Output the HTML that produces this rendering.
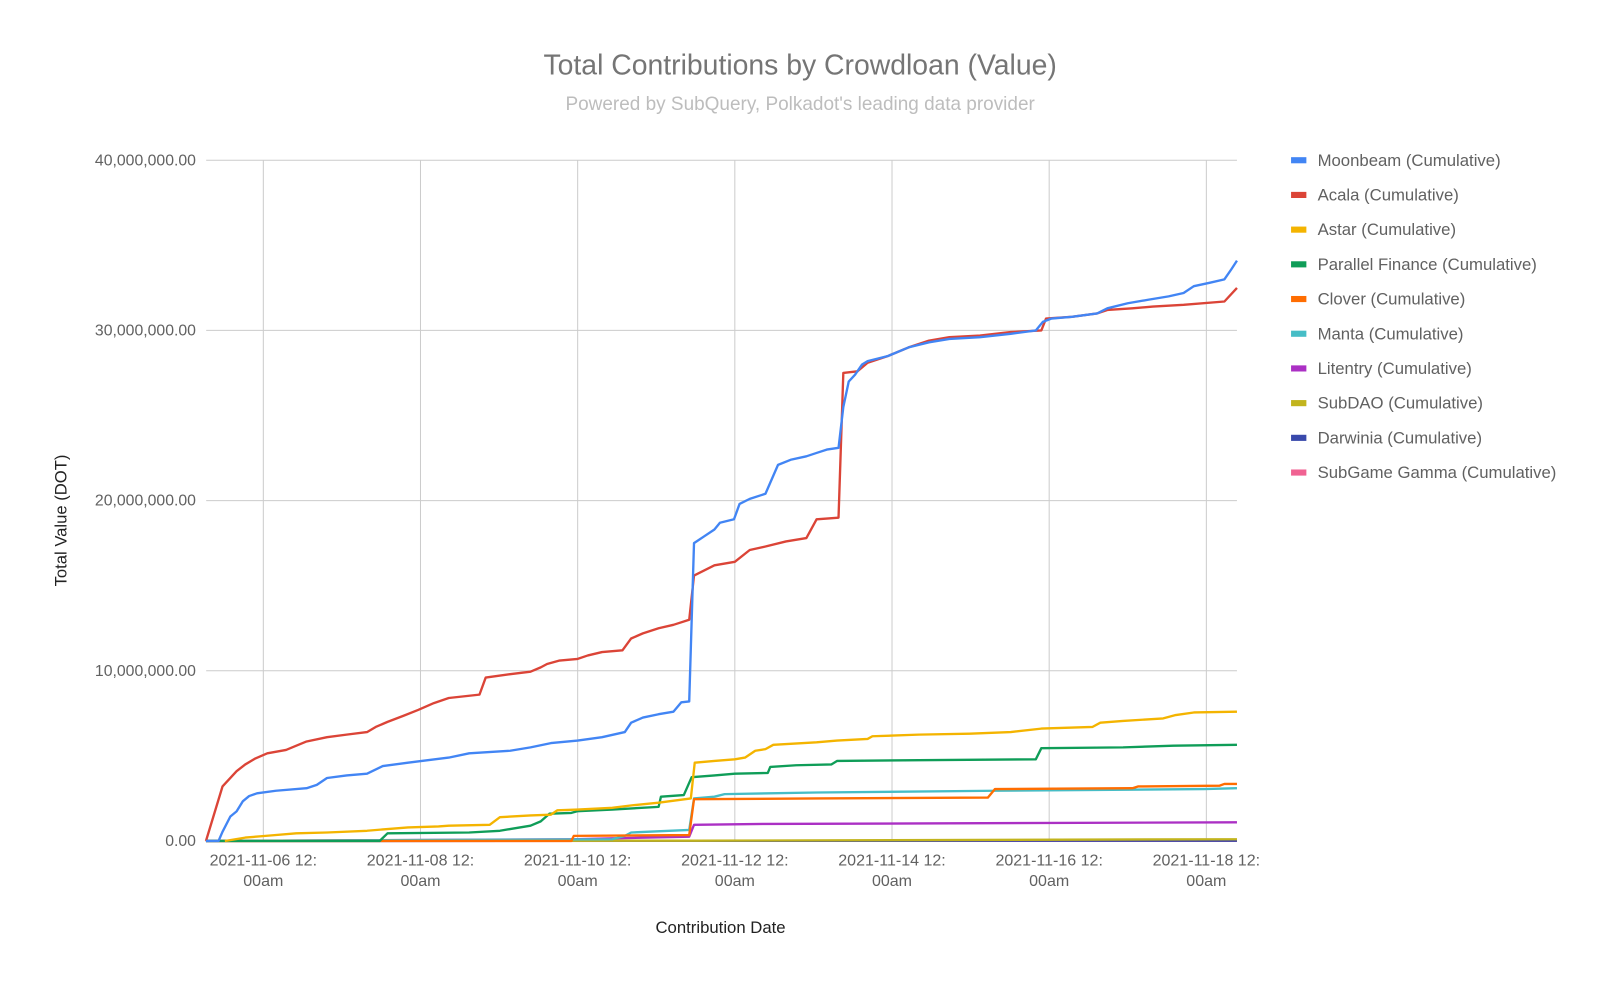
<!DOCTYPE html>
<html><head><meta charset="utf-8"><style>
body{margin:0;background:#fff;font-family:"Liberation Sans",Arial,sans-serif}
svg{display:block}
svg text{font-family:"Liberation Sans",Arial,sans-serif}
</style></head><body>
<svg id="chart" width="1600" height="986" viewBox="0 0 1567.7 966.1" xmlns="http://www.w3.org/2000/svg">
<rect width="1568" height="967" fill="#fff"/>
<text x="784" y="73" text-anchor="middle" font-size="27.8" fill="#757575">Total Contributions by Crowdloan (Value)</text>
<text x="784" y="108" text-anchor="middle" font-size="18.6" fill="#bdbdbd">Powered by SubQuery, Polkadot's leading data provider</text>
<g id="grid"></g><g id="series"></g><g id="axes"></g><g id="legend"></g>
<text x="706" y="914" text-anchor="middle" font-size="16.4" fill="#222">Contribution Date</text>
<text transform="translate(65,510) rotate(-90)" text-anchor="middle" font-size="16.3" fill="#222">Total Value (DOT)</text>
</svg>
<script>
// x in days offset from 2021-11-06 12:00, y in millions of DOT
const yTicks=[0,10,20,30,40];
const yTickLabels=["0.00","10,000,000.00","20,000,000.00","30,000,000.00","40,000,000.00"];
const xTicks=[0,2,4,6,8,10,12];
const xTickLabels=["2021-11-06 12:","2021-11-08 12:","2021-11-10 12:","2021-11-12 12:","2021-11-14 12:","2021-11-16 12:","2021-11-18 12:"];
const seriesNames=["Moonbeam (Cumulative)","Acala (Cumulative)","Astar (Cumulative)","Parallel Finance (Cumulative)","Clover (Cumulative)","Manta (Cumulative)","Litentry (Cumulative)","SubDAO (Cumulative)","Darwinia (Cumulative)","SubGame Gamma (Cumulative)"];
const seriesColors=["#4285f4","#db4437","#f4b400","#0f9d58","#ff6d01","#46bdc6","#ab30c4","#c2b41d","#3949ab","#f06292"];
const moonbeam=[[-0.73,0],[-0.57,0],[-0.52,0.54],[-0.42,1.44],[-0.34,1.74],[-0.26,2.34],[-0.18,2.64],[-0.08,2.8],[0.16,2.95],[0.55,3.1],[0.68,3.3],[0.81,3.7],[1.06,3.85],[1.32,3.95],[1.52,4.4],[1.84,4.6],[2.36,4.9],[2.62,5.15],[3.14,5.3],[3.4,5.5],[3.66,5.75],[4.0,5.9],[4.31,6.1],[4.6,6.4],[4.68,6.95],[4.83,7.25],[5.03,7.45],[5.22,7.6],[5.32,8.15],[5.42,8.2],[5.48,17.5],[5.61,17.9],[5.74,18.3],[5.81,18.7],[5.99,18.9],[6.06,19.8],[6.19,20.1],[6.39,20.4],[6.55,22.1],[6.71,22.4],[6.91,22.6],[7.04,22.8],[7.17,23.0],[7.32,23.1],[7.38,25.5],[7.45,27.0],[7.53,27.4],[7.62,28.0],[7.69,28.2],[7.95,28.5],[8.21,29.0],[8.47,29.3],[8.73,29.5],[9.12,29.6],[9.51,29.8],[9.83,30.0],[9.92,30.5],[10.03,30.7],[10.29,30.8],[10.61,31.0],[10.74,31.3],[11.0,31.6],[11.26,31.8],[11.52,32.0],[11.71,32.2],[11.84,32.6],[12.04,32.8],[12.23,33.0],[12.32,33.6],[12.39,34.1]];
const acala=[[-0.73,0],[-0.52,3.2],[-0.34,4.1],[-0.23,4.5],[-0.1,4.85],[0.05,5.15],[0.29,5.35],[0.42,5.6],[0.55,5.85],[0.81,6.1],[1.06,6.25],[1.32,6.4],[1.43,6.7],[1.58,7.0],[1.78,7.35],[1.97,7.7],[2.17,8.1],[2.36,8.4],[2.75,8.6],[2.83,9.6],[3.14,9.8],[3.4,9.95],[3.53,10.2],[3.61,10.4],[3.77,10.6],[4.0,10.7],[4.13,10.9],[4.31,11.1],[4.57,11.2],[4.68,11.9],[4.83,12.2],[5.03,12.5],[5.22,12.7],[5.42,13.0],[5.48,15.6],[5.61,15.9],[5.74,16.2],[6.0,16.4],[6.19,17.1],[6.39,17.3],[6.65,17.6],[6.91,17.8],[7.04,18.9],[7.32,19.0],[7.38,27.5],[7.56,27.6],[7.69,28.1],[7.95,28.5],[8.21,29.0],[8.47,29.4],[8.73,29.6],[9.12,29.7],[9.51,29.9],[9.9,30.0],[9.96,30.7],[10.29,30.8],[10.61,31.0],[10.74,31.2],[11.06,31.3],[11.32,31.4],[11.71,31.5],[12.23,31.7],[12.39,32.5]];
const astar=[[-0.49,0],[-0.23,0.2],[0.03,0.3],[0.42,0.45],[0.81,0.5],[1.32,0.6],[1.58,0.7],[1.84,0.8],[2.23,0.85],[2.36,0.9],[2.88,0.95],[3.01,1.4],[3.4,1.5],[3.66,1.55],[3.74,1.8],[4.0,1.85],[4.44,1.95],[4.7,2.1],[5.03,2.25],[5.44,2.5],[5.49,4.6],[5.74,4.7],[6.0,4.8],[6.13,4.9],[6.26,5.3],[6.39,5.4],[6.49,5.65],[7.04,5.8],[7.3,5.9],[7.69,6.0],[7.75,6.15],[8.34,6.25],[8.99,6.3],[9.51,6.4],[9.9,6.6],[10.55,6.7],[10.65,6.95],[10.94,7.05],[11.45,7.2],[11.61,7.4],[11.84,7.55],[12.39,7.6]];
const parallel=[[-0.73,0],[1.48,0],[1.58,0.45],[2.62,0.5],[3.01,0.6],[3.14,0.7],[3.4,0.9],[3.53,1.15],[3.64,1.6],[3.92,1.65],[4.0,1.75],[4.44,1.85],[5.03,2.0],[5.06,2.6],[5.35,2.7],[5.45,3.75],[5.74,3.85],[6.0,3.95],[6.42,4.0],[6.45,4.35],[6.78,4.45],[7.23,4.5],[7.3,4.7],[8.34,4.75],[9.83,4.8],[9.9,5.45],[10.94,5.5],[11.58,5.6],[12.39,5.65]];
const clover=[[-0.73,0],[3.92,0],[3.95,0.3],[5.42,0.35],[5.48,2.45],[7.04,2.5],[9.22,2.55],[9.31,3.05],[11.06,3.1],[11.13,3.2],[12.17,3.25],[12.23,3.35],[12.39,3.35]];
const manta=[[-0.73,0],[4.44,0.1],[4.6,0.3],[4.68,0.5],[5.42,0.65],[5.48,2.5],[5.74,2.6],[5.87,2.75],[7.04,2.85],[9.31,2.95],[11.97,3.05],[12.39,3.1]];
const litentry=[[-0.73,0],[3.92,0.1],[5.42,0.25],[5.48,0.95],[6.39,1.0],[8.34,1.03],[12.39,1.1]];
const subdao=[[-0.73,0],[5.5,0.02],[12.39,0.1]];
const darwinia=[[-0.73,0],[12.39,0.02]];
const subgame=[[-0.73,0],[12.39,0.01]];
const allSeries=[moonbeam,acala,astar,parallel,clover,manta,litentry,subdao,darwinia,subgame];

const NS="http://www.w3.org/2000/svg";
const X0=202,X1=1212,Y0=824,Y1=157;
const yMax=40;
function sx(d){return 258+d*77;}
function sy(v){return Y0-(v/yMax)*(Y0-Y1);}
function mk(tag,attrs,parent){const e=document.createElementNS(NS,tag);for(const k in attrs)e.setAttribute(k,attrs[k]);parent.appendChild(e);return e;}
const grid=document.getElementById('grid'),axes=document.getElementById('axes'),ser=document.getElementById('series'),leg=document.getElementById('legend');
yTicks.forEach((t,i)=>{
  const l=mk('line',{x1:X0,x2:X1,y1:sy(t),y2:sy(t),stroke:i==0?'#333':'#cccccc','stroke-width':1},grid);
  
  
  const tx=mk('text',{x:192,y:sy(t)+5,'text-anchor':'end','font-size':15.5,fill:'#616161'},axes);
  tx.textContent=yTickLabels[i];
  
  
});
xTicks.forEach((t,i)=>{
  const l=mk('line',{x1:sx(t),x2:sx(t),y1:Y1,y2:Y0,stroke:'#cccccc','stroke-width':1},grid);
  
  
  const tx=mk('text',{x:sx(t),y:848,'text-anchor':'middle','font-size':15.7,fill:'#616161'},axes);
  tx.textContent=xTickLabels[i];
  
  
  const tx2=mk('text',{x:sx(t),y:868,'text-anchor':'middle','font-size':15.7,fill:'#616161'},axes);
  tx2.textContent='00am';
  
  
});
for(let i=allSeries.length-1;i>=0;i--){
  const pts=allSeries[i].map(p=>sx(p[0]).toFixed(1)+','+sy(p[1]).toFixed(1)).join(' ');
  const pl=mk('polyline',{points:pts,fill:'none',stroke:seriesColors[i],'stroke-width':2.3,'stroke-linejoin':'round'},ser);
  
  
}
seriesNames.forEach((n,i)=>{
  const g=mk('g',{},leg);
  
  
  const y=157+i*34;
  mk('rect',{x:1265,y:y-3,width:15,height:6,fill:seriesColors[i]},g);
  const t=mk('text',{x:1291,y:y+5.5,'font-size':16.4,fill:'#616161'},g);
  t.textContent=n;
});
</script>
</body></html>
